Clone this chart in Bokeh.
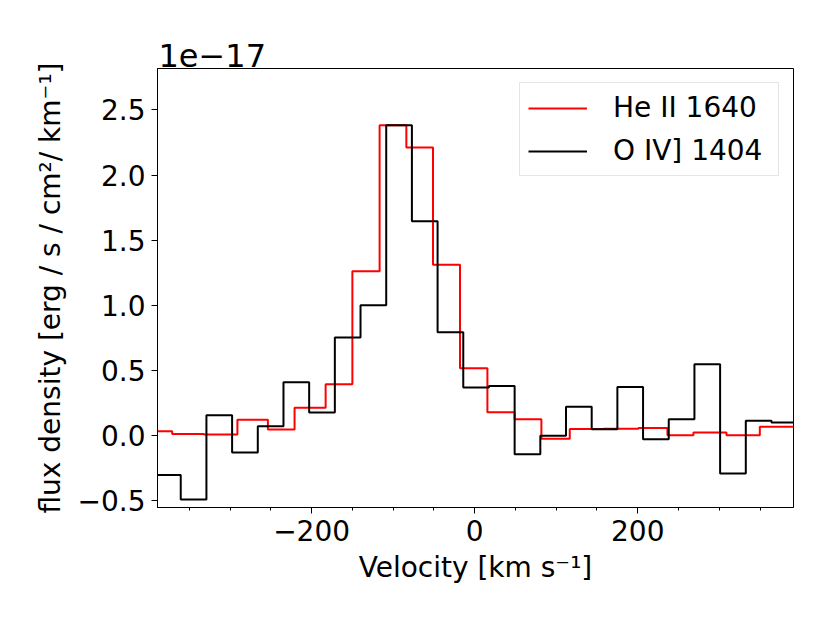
from bokeh.plotting import figure
from bokeh.models import FixedTicker, Range1d, Legend, LegendItem
from bokeh.embed import file_html
from bokeh.resources import INLINE

# ---- data (flux density in units of 1e-17) ----
he_edges = [-400.0, -371.0, -332.0, -291.0, -253.6, -220.9, -182.8, -150.0, -116.6,
            -83.8, -51.1, -18.0, 15.6, 49.0, 81.8, 116.6, 158.0, 200.8, 236.4,
            268.3, 308.8, 349.7, 400.0]
he_flux = [0.031, 0.010, 0.005, 0.118, 0.043, 0.210, 0.392, 1.260, 2.383, 2.212,
           1.311, 0.515, 0.177, 0.123, -0.028, 0.048, 0.050, 0.056, 0.000, 0.020,
           0.000, 0.064]

o4_edges = [-392.0, -360.5, -329.0, -297.5, -266.0, -234.5, -203.0, -171.5, -140.0,
            -108.5, -77.0, -45.5, -14.0, 17.5, 49.0, 80.5, 112.0, 143.5, 175.0,
            206.5, 238.0, 269.5, 301.0, 332.5, 364.0, 395.5]
o4_flux = [-0.307, -0.494, 0.154, -0.133, 0.069, 0.407, 0.174, 0.750, 0.998, 2.383,
           1.644, 0.791, 0.366, 0.379, -0.146, -0.005, 0.218, 0.046, 0.371, -0.031,
           0.123, 0.545, -0.294, 0.110, 0.097]

x_ticks = [-200, 0, 200]
x_tick_labels = ["\u2212200", "0", "200"]
x_minor_ticks = [-350, -300, -250, -150, -100, -50, 50, 100, 150, 250, 300, 350]
y_ticks = [-0.5, 0.0, 0.5, 1.0, 1.5, 2.0, 2.5]
y_tick_labels = ["\u22120.5", "0.0", "0.5", "1.0", "1.5", "2.0", "2.5"]

FONT = "DejaVu Sans"
FS = "28px"
FW, FH = 636, 439

p = figure(output_backend="svg", toolbar_location=None,
           frame_width=FW, frame_height=FH,
           min_border_left=157, min_border_right=21,
           min_border_top=68, min_border_bottom=100,
           x_range=Range1d(-389, 391), y_range=Range1d(-0.556, 2.819))
p.xgrid.visible = False
p.ygrid.visible = False
p.background_fill_color = "white"
p.border_fill_color = "white"
p.outline_line_color = "black"
p.outline_line_width = 1
p.outline_line_alpha = 1

p.title.text = "1e\u221217"
p.title.text_font = FONT
p.title.text_font_size = "32px"
p.title.text_font_style = "normal"
p.title.text_color = "black"
p.title.align = "left"
p.title.offset = 1
p.title.standoff = 4

r_he = p.step(he_edges, he_flux + [he_flux[-1]], mode="after",
              line_color="#ff0000", line_width=2)
r_o4 = p.step(o4_edges, o4_flux + [o4_flux[-1]], mode="after",
              line_color="#000000", line_width=2)

for ax in (p.xaxis[0], p.yaxis[0]):
    ax.axis_line_color = "black"
    ax.major_tick_line_color = "black"
    ax.minor_tick_line_color = "black"
    ax.major_tick_in = 0
    ax.major_tick_out = 6
    ax.minor_tick_in = 0
    ax.minor_tick_out = 3
    ax.major_label_text_font = FONT
    ax.major_label_text_font_size = FS
    ax.major_label_text_color = "black"
    ax.axis_label_text_font = FONT
    ax.axis_label_text_font_size = FS
    ax.axis_label_text_font_style = "normal"
    ax.axis_label_text_color = "black"

p.xaxis.ticker = FixedTicker(ticks=x_ticks, minor_ticks=x_minor_ticks)
p.xaxis.major_label_overrides = dict(zip(x_ticks, x_tick_labels))
p.yaxis.ticker = FixedTicker(ticks=y_ticks, minor_ticks=[])
p.yaxis.major_label_overrides = dict(zip(y_ticks, y_tick_labels))
p.xaxis.major_label_standoff = 6
p.yaxis.major_label_standoff = 6
p.xaxis.axis_label = "Velocity [km s\u207b\u00b9]"
p.yaxis.axis_label = "flux density [erg / s / cm\u00b2/ km\u207b\u00b9]"
p.xaxis.axis_label_standoff = 7
p.yaxis.axis_label_standoff = 8

legend = Legend(items=[LegendItem(label="He II 1640", renderers=[r_he]),
                       LegendItem(label="O IV] 1404", renderers=[r_o4])],
                location="top_right", margin=14, padding=8,
                glyph_width=59, glyph_height=30, label_height=30,
                label_width=157, label_standoff=26, spacing=10,
                label_text_font=FONT, label_text_font_size=FS,
                label_text_color="black",
                border_line_color="#cccccc", border_line_width=1,
                background_fill_color="white", background_fill_alpha=0.8)
p.add_layout(legend)

open("out.html", "w").write(file_html(p, INLINE))
